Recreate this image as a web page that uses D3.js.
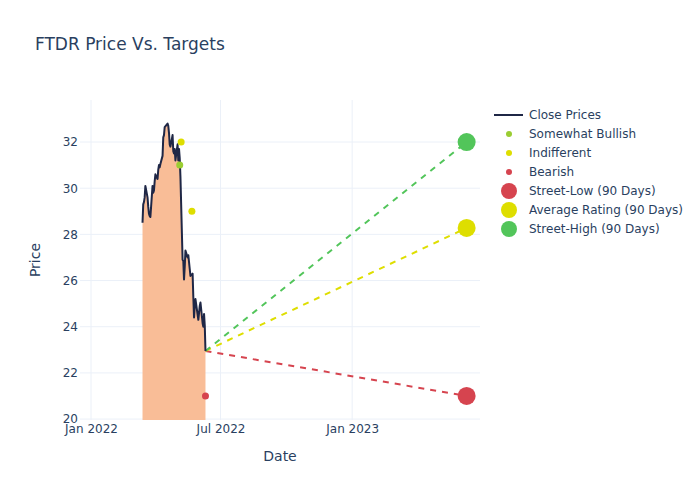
<!DOCTYPE html>
<html>
<head>
<meta charset="utf-8">
<script src="https://cdn.jsdelivr.net/npm/d3@7"></script>
<style>
  html, body { margin: 0; padding: 0; background: #fff; }
  svg { display: block; font-family: "DejaVu Sans", sans-serif; }
</style>
</head>
<body>
<svg id="chart" width="700" height="500"></svg>
<script>
// ---------- DATA ----------
const closeStart = "2022-03-14";
const closeEnd = "2022-06-10";
const marketHolidays = ["2022-04-15", "2022-05-30"];
const closePrices = [
  28.5, 29.3, 29.4, 29.6, 30.1,
  29.6, 29.2, 28.9, 28.8, 28.75,
  30.1, 29.8, 29.9, 30.3, 30.6,
  30.4, 30.8, 31.0, 30.9, 31.05,
  31.4, 32.2, 32.3, 32.65,
  32.8, 32.7, 32.4, 31.9, 31.8,
  32.3, 31.6, 31.5, 31.7, 31.2,
  31.9, 31.2, 31.7, 31.3, 30.5,
  26.9, 26.85, 26.05, 26.6, 27.3,
  27.0, 27.1, 26.8, 26.5, 26.2,
  26.3, 25.3, 24.4, 24.9, 25.2,
  24.3, 24.6, 24.9, 25.05,
  24.15, 24.0, 24.55, 24.05, 22.95
];

const bullishDates = ["2022-05-05"];
const bullishPrices = [31.0];
const indifferentDates = ["2022-05-07", "2022-05-22"];
const indifferentPrices = [32.0, 29.0];
const bearishDates = ["2022-06-10"];
const bearishPrices = [21.0];

const targetDate = "2023-06-10";
const targetNames = ["Street-Low (90 Days)", "Average Rating (90 Days)", "Street-High (90 Days)"];
const targetValues = [21.0, 28.28, 32.0];
const targetColors = ["#d6444f", "#dede00", "#52c55a"];

const yTicks = [20, 22, 24, 26, 28, 30, 32];
const xTicks = ["2022-01-01", "2022-07-01", "2023-01-01"];

const legendLabels = ["Close Prices", "Somewhat Bullish", "Indifferent", "Bearish",
  "Street-Low (90 Days)", "Average Rating (90 Days)", "Street-High (90 Days)"];

// ---------- SETUP ----------
const parse = d3.utcParse("%Y-%m-%d");
const holidaySet = new Set(marketHolidays);
const closeDates = d3.utcDay.range(parse(closeStart), d3.utcDay.offset(parse(closeEnd), 1))
  .filter(d => d.getUTCDay() !== 0 && d.getUTCDay() !== 6)
  .filter(d => !holidaySet.has(d3.utcFormat("%Y-%m-%d")(d)));
const closeData = closeDates.map((d, i) => ({ date: d, price: closePrices[i] }));

const svg = d3.select("#chart");
const ink = "#2a3f5f";
const grid = "#ebf0f8";
const plot = { left: 80, right: 480, top: 100, bottom: 420 };

const x = d3.scaleUtc()
  .domain([new Date(Date.UTC(2021, 11, 16, 15)), new Date(Date.UTC(2023, 5, 28, 16))])
  .range([plot.left, plot.right]);
const y = d3.scaleLinear().domain([19.96, 33.82]).range([plot.bottom, plot.top]);

// Title
svg.append("text").attr("x", 35).attr("y", 50)
  .attr("font-size", 17).attr("fill", ink).text("FTDR Price Vs. Targets");

// Grid
const gx = svg.append("g");
gx.selectAll("line.v").data(xTicks).join("line")
  .attr("x1", d => x(parse(d))).attr("x2", d => x(parse(d)))
  .attr("y1", plot.top).attr("y2", plot.bottom)
  .attr("stroke", grid).attr("stroke-width", 1);
gx.selectAll("line.h").data(yTicks).join("line")
  .attr("x1", plot.left).attr("x2", plot.right)
  .attr("y1", d => y(d)).attr("y2", d => y(d))
  .attr("stroke", grid).attr("stroke-width", 1);

// Axes (labels only, via d3 axes)
const yAxis = d3.axisLeft(y).tickValues(yTicks).tickSize(0).tickPadding(0).tickFormat(d3.format("d"));
const yg = svg.append("g").attr("transform", `translate(${plot.left - 2},0)`).call(yAxis);
yg.select(".domain").remove();
yg.selectAll("text").attr("font-size", 12).attr("fill", ink).attr("font-family", "DejaVu Sans, sans-serif");

const xAxis = d3.axisBottom(x).tickValues(xTicks.map(parse)).tickSize(0).tickPadding(0)
  .tickFormat(d3.utcFormat("%b %Y"));
const xg = svg.append("g").attr("transform", `translate(0,${plot.bottom + 4})`).call(xAxis);
xg.select(".domain").remove();
xg.selectAll("text").attr("font-size", 12).attr("fill", ink).attr("font-family", "DejaVu Sans, sans-serif");

// Axis titles
svg.append("text").attr("x", plot.left + (plot.right - plot.left) / 2).attr("y", 461)
  .attr("text-anchor", "middle").attr("font-size", 14).attr("fill", ink).text("Date");
svg.append("text").attr("transform", `translate(40,${(plot.top + plot.bottom) / 2}) rotate(-90)`)
  .attr("text-anchor", "middle").attr("font-size", 14).attr("fill", ink).text("Price");

// Clip
svg.append("clipPath").attr("id", "clip").append("rect")
  .attr("x", plot.left).attr("y", plot.top)
  .attr("width", plot.right - plot.left).attr("height", plot.bottom - plot.top);
const g = svg.append("g").attr("clip-path", "url(#clip)");

// Area fill
const area = d3.area().x(d => x(d.date)).y0(y(0)).y1(d => y(d.price));
g.append("path").datum(closeData).attr("d", area).attr("fill", "#f9bd97");

// Target dashed lines
const last = closeData[closeData.length - 1];
targetValues.forEach((v, i) => {
  g.append("line")
    .attr("x1", x(last.date)).attr("y1", y(last.price))
    .attr("x2", x(parse(targetDate))).attr("y2", y(v))
    .attr("stroke", targetColors[i]).attr("stroke-width", 2).attr("stroke-dasharray", "6,6");
});

// Close line
const line = d3.line().x(d => x(d.date)).y(d => y(d.price));
g.append("path").datum(closeData).attr("d", line)
  .attr("fill", "none").attr("stroke", "#1f2746").attr("stroke-width", 2).attr("stroke-linejoin", "round");

// Analyst dots
function dots(dates, prices, color) {
  g.selectAll(null).data(dates.map((d, i) => ({ date: parse(d), price: prices[i] }))).join("circle")
    .attr("cx", d => x(d.date)).attr("cy", d => y(d.price)).attr("r", 3.5).attr("fill", color);
}
dots(bullishDates, bullishPrices, "#9acd32");
dots(indifferentDates, indifferentPrices, "#dede00");
dots(bearishDates, bearishPrices, "#d6444f");

// Target markers
svg.selectAll(null).data(targetValues).join("circle")
  .attr("cx", x(parse(targetDate))).attr("cy", d => y(d)).attr("r", 9)
  .attr("fill", (d, i) => targetColors[i]);

// Legend
const lg = svg.append("g");
const legendColors = [null, "#9acd32", "#dede00", "#d6444f"].concat(targetColors);
legendLabels.forEach((lab, i) => {
  const ly = 115 + i * 19;
  if (i === 0) {
    lg.append("line").attr("x1", 494).attr("x2", 523).attr("y1", ly).attr("y2", ly)
      .attr("stroke", "#1f2746").attr("stroke-width", 2);
  } else {
    lg.append("circle").attr("cx", 509).attr("cy", ly).attr("r", i < 4 ? 3 : 8)
      .attr("fill", legendColors[i]);
  }
  lg.append("text").attr("x", 529).attr("y", ly).attr("dy", "0.35em")
    .attr("font-size", 12).attr("fill", ink).text(lab);
});
</script>
</body>
</html>
